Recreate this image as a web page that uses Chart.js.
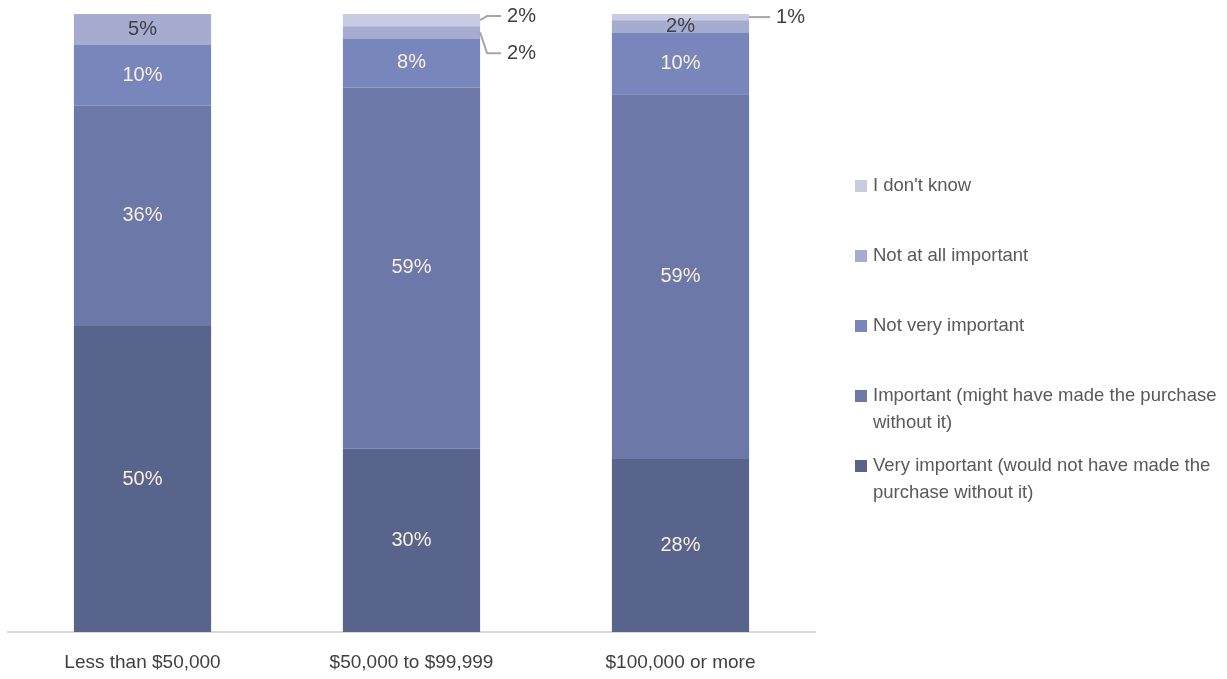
<!DOCTYPE html>
<html>
<head>
<meta charset="utf-8">
<script src="https://cdn.jsdelivr.net/npm/chart.js@4"></script>
<style>
  html, body { margin: 0; padding: 0; background: #fff; }
  #wrap { width: 1227px; height: 679px; position: relative; }
</style>
</head>
<body>
<div id="wrap"><canvas id="bars"></canvas></div>
<script>
const categories = ["Less than $50,000", "$50,000 to $99,999", "$100,000 or more"];
const seriesNames = [
  "Very important (would not have made the purchase without it)",
  "Important (might have made the purchase without it)",
  "Not very important",
  "Not at all important",
  "I don't know",
];
const veryImportant = [50, 30, 28];
const important = [36, 59, 59];
const notVeryImportant = [10, 8, 10];
const notAtAllImportant = [5, 2, 2];
const dontKnow = [0, 2, 1];

const seriesValues = [veryImportant, important, notVeryImportant, notAtAllImportant, dontKnow];
const seriesColors = ["#59648c", "#6c78a7", "#7986bc", "#a5acd0", "#c8cce2"];
const labelColors = ["#f8f0e2", "#f8f0e2", "#f8f0e2", "#404040", "#404040"];

const FONT = '"Liberation Sans", Arial, sans-serif';

// 100% stacked, like the original: each column is scaled to its own total
const totals = categories.map((_, c) => seriesValues.reduce((s, arr) => s + arr[c], 0));

// small slices that get a leader line instead of an inside label
const callouts = [
  { cat: 1, series: 4, dy: -4 },
  { cat: 1, series: 3, dy: 21 },
  { cat: 2, series: 4, dy: 0 },
];

const valueLabels = {
  id: "valueLabels",
  afterDatasetsDraw(chart) {
    const ctx = chart.ctx;
    ctx.save();
    ctx.font = "20px " + FONT;
    ctx.textBaseline = "middle";
    seriesValues.forEach((vals, s) => {
      const meta = chart.getDatasetMeta(s);
      meta.data.forEach((bar, c) => {
        const v = vals[c];
        if (!v) return;
        const cy = (bar.y + bar.base) / 2;
        const co = callouts.find((o) => o.cat === c && o.series === s);
        if (co) {
          const right = bar.x + bar.width / 2;
          ctx.strokeStyle = "#a6a6a6";
          ctx.lineWidth = 2;
          ctx.beginPath();
          ctx.moveTo(right, cy);
          ctx.lineTo(right + 7, cy + co.dy);
          ctx.lineTo(right + 21, cy + co.dy);
          ctx.stroke();
          ctx.fillStyle = "#404040";
          ctx.textAlign = "left";
          ctx.fillText(v + "%", right + 27, cy + co.dy);
        } else {
          ctx.fillStyle = labelColors[s];
          ctx.textAlign = "center";
          ctx.fillText(v + "%", bar.x, cy);
        }
      });
    });
    ctx.restore();
  },
};

const sideLegend = {
  id: "sideLegend",
  afterDraw(chart) {
    const ctx = chart.ctx;
    ctx.save();
    ctx.font = "18.5px " + FONT;
    ctx.textBaseline = "middle";
    ctx.textAlign = "left";
    const maxW = 350;
    const order = seriesNames.map((_, i) => i).reverse();
    order.forEach((s, k) => {
      const y = 186 + k * 70;
      const words = seriesNames[s].split(" ");
      const lines = [];
      let line = "";
      words.forEach((w) => {
        const test = line ? line + " " + w : w;
        if (ctx.measureText(test).width > maxW && line) {
          lines.push(line);
          line = w;
        } else {
          line = test;
        }
      });
      lines.push(line);
      ctx.fillStyle = seriesColors[s];
      ctx.fillRect(855, y - 6, 12, 12);
      ctx.fillStyle = "#595959";
      lines.forEach((l, i) => ctx.fillText(l, 873, y + i * 27));
    });
    ctx.restore();
  },
};

new Chart(document.getElementById("bars").getContext("2d"), {
  type: "bar",
  data: {
    labels: categories,
    datasets: seriesValues.map((vals, s) => ({
      label: seriesNames[s],
      data: vals.map((v, c) => (v / totals[c]) * 100),
      backgroundColor: seriesColors[s],
      borderWidth: 0,
      barPercentage: 0.51,
      categoryPercentage: 1,
    })),
  },
  options: {
    responsive: true,
    maintainAspectRatio: false,
    animation: false,
    layout: { padding: { left: 8, right: 412, top: 14, bottom: 0 } },
    plugins: {
      legend: { display: false },
      tooltip: { enabled: false },
    },
    scales: {
      x: {
        stacked: true,
        grid: { display: false, drawTicks: false },
        border: { display: true, color: "#d9d9d9", width: 2 },
        ticks: {
          padding: 19,
          color: "#404040",
          font: { family: FONT, size: 19 },
          maxRotation: 0,
        },
        afterFit(scale) {
          scale.height = 47;
        },
      },
      y: {
        stacked: true,
        display: false,
        min: 0,
        max: 100,
      },
    },
  },
  plugins: [valueLabels, sideLegend],
});
</script>
</body>
</html>
